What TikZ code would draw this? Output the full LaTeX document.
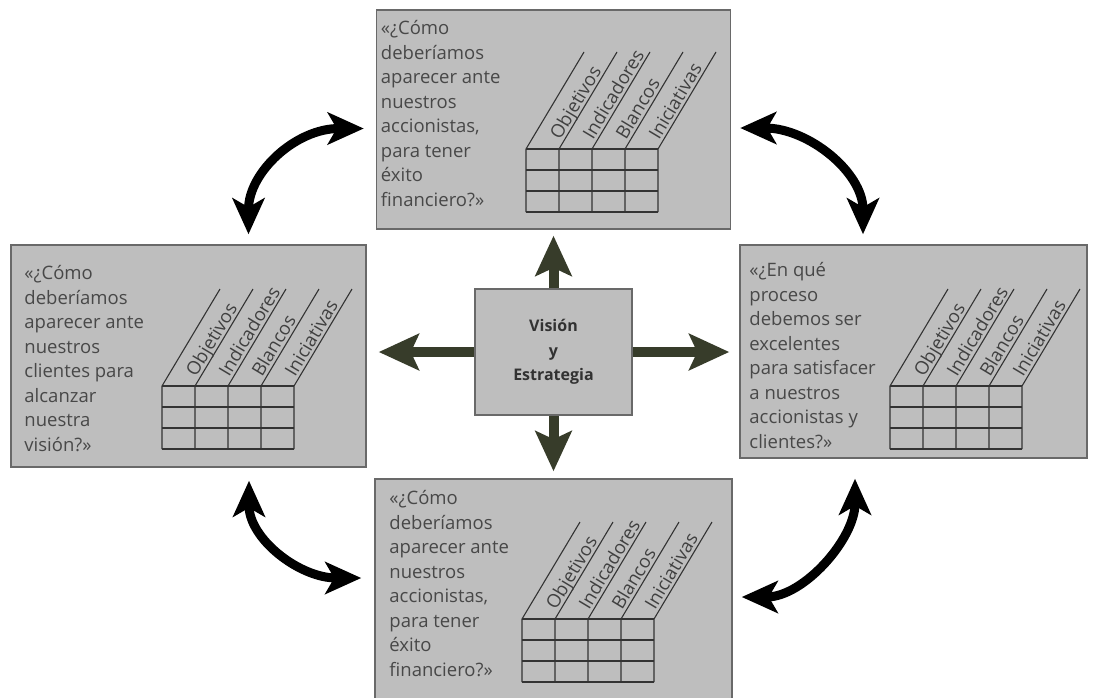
\documentclass[tikz,border=0pt]{standalone}
\usepackage{fontspec}
\setmainfont{Open Sans}
\usetikzlibrary{arrows.meta}
\definecolor{fondo}{RGB}{190,190,190}
\definecolor{borde}{RGB}{105,105,105}
\definecolor{texto}{RGB}{72,72,72}
\definecolor{oliva}{RGB}{55,60,42}
\begin{document}
\begin{tikzpicture}[x=1pt, y=-1pt,
    caja/.style={draw=borde, line width=1.5pt, fill=fondo, inner sep=0pt},
    pregunta/.style={anchor=north west, align=left, text=texto, inner sep=0pt, font=\fontsize{18.5}{24.5}\selectfont},
    rejilla/.style={draw=black!80, line width=1.1pt},
    etiqueta/.style={rotate=59, anchor=base west, inner sep=0pt, text=black!75, font=\fontsize{18.5}{20}\selectfont},
    flecha/.style={draw=oliva, line width=10pt, -{Stealth[length=40pt,width=36pt,inset=8pt]}},
    curva/.style={draw=black, line width=9pt, {Stealth[length=36pt,width=32pt,inset=9pt]}-{Stealth[length=36pt,width=32pt,inset=9pt]}},
    tabla/.pic={
      \foreach \i in {0,...,4} \draw[rejilla] (\i*33,63) -- (\i*33,0) -- ++(58,-97);
      \foreach \j in {0,...,3} \draw[rejilla] (0,\j*21) -- (132,\j*21);
      \foreach \t [count=\k] in {Objetivos,Indicadores,Blancos,Iniciativas} \node[etiqueta] at (\k*33+1,-8) {\t};
    }]
    \path[use as bounding box, fill=white] (0,0) rectangle (1094,697);
    % the four perspectives
    \node[caja, minimum width=354pt, minimum height=219pt] (arriba) at (553.5,119.5) {};
    \node[caja, minimum width=355pt, minimum height=222pt] (izq) at (188.5,356) {};
    \node[caja, minimum width=347pt, minimum height=213pt] (der) at (913.5,351.5) {};
    \node[caja, minimum width=357pt, minimum height=220pt] (abajo) at (553.5,589) {};
    \node[caja, minimum width=157pt, minimum height=126pt, align=center, text=texto!70!black, font=\bfseries\fontsize{16}{24.5}\selectfont] (vis) at (553.5,352) {Visión\\y\\Estrategia};
    \node[pregunta] (arribaq) at ([xshift=5pt,yshift=-11pt]arriba.north west) {«¿Cómo\\deberíamos\\aparecer ante\\nuestros\\accionistas,\\para tener\\éxito\\financiero?»};
    \node[pregunta] (izqq) at ([xshift=14pt,yshift=-21pt]izq.north west) {«¿Cómo\\deberíamos\\aparecer ante\\nuestros\\clientes para\\alcanzar\\nuestra\\visión?»};
    \node[pregunta] (derq) at ([xshift=10pt,yshift=-18pt]der.north west) {«¿En qué\\proceso\\debemos ser\\excelentes\\para satisfacer\\a nuestros\\accionistas y\\clientes?»};
    \node[pregunta] (abajoq) at ([xshift=15pt,yshift=-12pt]abajo.north west) {«¿Cómo\\deberíamos\\aparecer ante\\nuestros\\accionistas,\\para tener\\éxito\\financiero?»};
    \pic at (526,149) {tabla};
    \pic at (162,386) {tabla};
    \pic at (890,386) {tabla};
    \pic at (522,619) {tabla};
    % arrows out of the centre
    \draw[flecha, shorten >=6pt] (vis.north) -- (arriba.south);
    \draw[flecha, shorten >=7pt] (vis.south) -- (abajo.north);
    \draw[flecha, shorten >=10pt] (vis.east) -- (vis.east -| der.west);
    \draw[flecha, shorten >=12pt] (vis.west) -- (vis.west -| izq.east);
    % curved arrows between neighbours
    \draw[curva] ([xshift=60pt,yshift=10pt]izq.north) .. controls +(0,-62) and +(-68,0) .. ([xshift=-12pt,yshift=-9pt]arriba.west);
    \draw[curva] ([xshift=9pt,yshift=-8.5pt]arriba.east) .. controls +(68,0) and +(0,-62) .. ([xshift=-50.5pt,yshift=10pt]der.north);
    \draw[curva] ([xshift=60.5pt,yshift=-13pt]izq.south) .. controls +(0,58) and +(-62,0) .. ([xshift=-13pt,yshift=11pt]abajo.west);
    \draw[curva] ([xshift=-58.5pt,yshift=-20pt]der.south) .. controls +(0,60) and +(62,0) .. ([xshift=9pt,yshift=-8pt]abajo.east);
\end{tikzpicture}
\end{document}
